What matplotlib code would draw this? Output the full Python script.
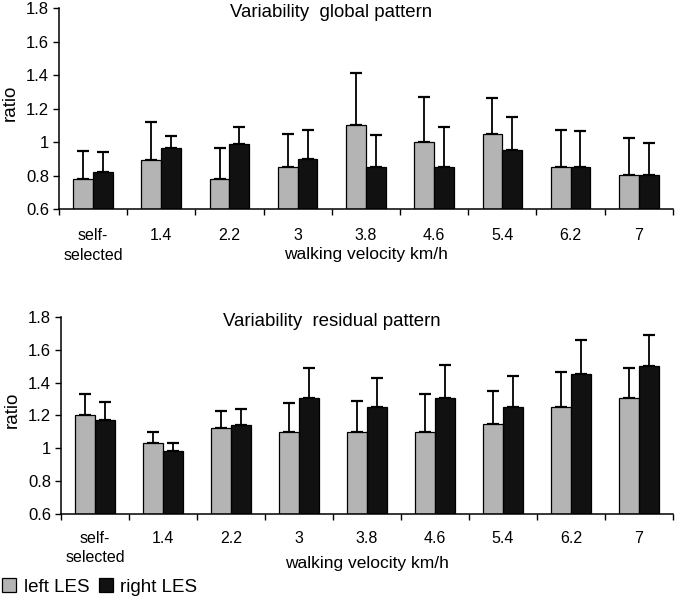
import matplotlib
matplotlib.use("Agg")
import matplotlib.pyplot as plt
import numpy as np
from matplotlib.ticker import FuncFormatter
from matplotlib.patches import Patch

plt.rcParams['font.family'] = ['Liberation Sans', 'DejaVu Sans']

categories = ["self-\nselected", "1.4", "2.2", "3", "3.8", "4.6", "5.4", "6.2", "7"]

# global pattern: means and upper error-bar tops
global_left = [0.78, 0.895, 0.78, 0.853, 1.10, 1.00, 1.05, 0.853, 0.804]
global_left_top = [0.948, 1.119, 0.966, 1.05, 1.414, 1.269, 1.261, 1.073, 1.024]
global_right = [0.818, 0.966, 0.988, 0.901, 0.853, 0.853, 0.952, 0.853, 0.804]
global_right_top = [0.943, 1.036, 1.091, 1.071, 1.042, 1.087, 1.149, 1.063, 0.992]

# residual pattern
resid_left = [1.202, 1.034, 1.123, 1.101, 1.10, 1.10, 1.151, 1.253, 1.305]
resid_left_top = [1.332, 1.099, 1.23, 1.273, 1.289, 1.332, 1.348, 1.466, 1.492]
resid_right = [1.174, 0.983, 1.143, 1.305, 1.253, 1.305, 1.253, 1.451, 1.50]
resid_right_top = [1.279, 1.034, 1.239, 1.492, 1.427, 1.508, 1.441, 1.66, 1.691]

gray = "#b4b4b4"
black = "#111111"

fig = plt.figure(figsize=(6.77, 5.98), dpi=100)
ax1 = fig.add_axes([0.087, 0.6505, 0.907, 0.336])
ax2 = fig.add_axes([0.090, 0.1405, 0.904, 0.3295])


def draw(ax, left, left_top, right, right_top, title, tickpad, xlab_y):
    x = np.arange(len(categories))
    w = 0.29
    for vals, tops, off, col in [(left, left_top, -w / 2, gray), (right, right_top, w / 2, black)]:
        vals = np.array(vals)
        err = np.array(tops) - vals
        ax.bar(x + off, vals - 0.6, w, bottom=0.6, color=col, edgecolor="black", linewidth=0.9, zorder=2)
        ax.errorbar(x + off, vals, yerr=[np.zeros_like(err), err], fmt="none",
                    ecolor="black", elinewidth=1.3, capsize=4, capthick=1.6, zorder=1)
    ax.set_xlim(-0.5, len(categories) - 0.5)
    ax.set_ylim(0.6, 1.8)
    ax.set_yticks(np.arange(0.6, 1.81, 0.2))
    ax.yaxis.set_major_formatter(FuncFormatter(lambda v, p: "%g" % round(v, 1)))
    ax.set_xticks(x)
    ax.set_xticklabels(categories, linespacing=1.35)
    ax.set_xticks(np.arange(-0.5, len(categories), 1), minor=True)
    ax.tick_params(axis="x", which="major", length=0, pad=tickpad, labelsize=11.5)
    ax.tick_params(axis="x", which="minor", length=4, width=1, direction="out")
    ax.tick_params(axis="y", length=4, width=1, labelsize=12, pad=3)
    for s in ["top", "right"]:
        ax.spines[s].set_visible(False)
    for s in ["left", "bottom"]:
        ax.spines[s].set_linewidth(1.1)
    ax.set_ylabel("ratio", fontsize=13.5, va="center")
    ax.yaxis.set_label_coords(-0.08, 0.53)
    ax.set_xlabel("walking velocity km/h", fontsize=12.5, va="center")
    ax.xaxis.set_label_coords(0.5, xlab_y)
    ax.text(0.443, 1.02, title, transform=ax.transAxes, ha="center", va="top", fontsize=13.4)


draw(ax1, global_left, global_left_top, global_right, global_right_top,
     "Variability  global pattern", 14, -46 / 201)
draw(ax2, resid_left, resid_left_top, resid_right, resid_right_top,
     "Variability  residual pattern", 12, -49.5 / 197)

handles = [Patch(facecolor=gray, edgecolor="black", linewidth=0.9, label="left LES"),
           Patch(facecolor=black, edgecolor="black", linewidth=0.9, label="right LES")]
fig.legend(handles=handles, loc="lower left", bbox_to_anchor=(0.003, 0.004), ncol=2, frameon=False,
           fontsize=13.5, handlelength=0.75, handleheight=0.75, handletextpad=0.4, columnspacing=0.5,
           borderpad=0.0, borderaxespad=0.0)

fig.savefig("out.png", dpi=100)
